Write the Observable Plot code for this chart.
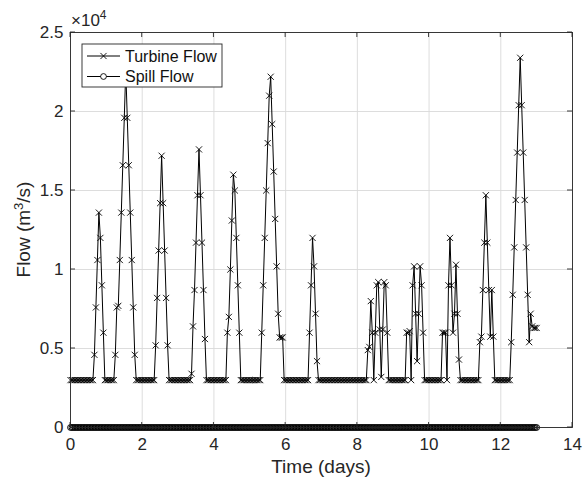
<!DOCTYPE html>
<html><head><meta charset="utf-8">
<script src="https://cdn.jsdelivr.net/npm/d3@7"></script>
<script src="https://cdn.jsdelivr.net/npm/@observablehq/plot@0.6"></script>
<style>body{margin:0;background:#fff} #chart{width:584px;height:483px}</style>
</head><body><div id="chart"></div>
<script>
// Hourly samples (hour index -> days = hour/24)
const turbineFlow = [
  3000,3000,3000,3000,3000,3000,3000,3000,3000,3000,3000,3000,3000,3000,3000,3000,4600,7600,10600,13600,12000,9000,6000,3000,
  3000,3000,3000,3000,3000,3000,4600,7600,7700,10600,13600,16600,19600,22600,19600,16600,13600,10600,7600,4600,3000,3000,3000,3000,
  3000,3000,3000,3000,3000,3000,3000,3000,3000,5200,8200,11200,14200,17200,14200,11200,8200,5200,3000,3000,3000,3000,3000,3000,
  3000,3000,3000,3000,3000,3000,3000,3000,3000,3400,6400,8700,11700,14700,17600,14700,11700,8700,5600,3000,3000,3000,3000,3000,
  3000,3000,3000,3000,3000,3000,3000,3000,3000,6000,7000,10000,13100,16000,15000,12000,9000,6000,3000,3000,3000,3000,3000,3000,
  3000,3000,3000,3000,3000,3000,3000,3000,6000,9000,12000,15000,18000,21000,22200,19200,16200,13200,10200,7200,5700,5700,5700,3000,
  3000,3000,3000,3000,3000,3000,3000,3000,3000,3000,3000,3000,3000,3000,3000,3000,6000,9000,12000,10200,7200,4200,3000,3000,
  3000,3000,3000,3000,3000,3000,3000,3000,3000,3000,3000,3000,3000,3000,3000,3000,3000,3000,3000,3000,3000,3000,3000,3000,
  3000,3000,3000,3000,3000,3000,3000,4900,5100,8000,6000,3000,6000,9000,9200,6200,3200,6200,9200,9000,6000,3000,3000,3000,
  3000,3000,3000,3000,3000,3000,3000,3000,3000,6000,6000,6100,3000,9000,10200,7200,4200,7200,10200,9000,6000,3000,3000,3000,
  3000,3000,3000,3000,3000,3000,3000,3000,3000,6000,6000,6000,3000,9000,12000,9000,6000,7200,10300,7200,4300,3000,3000,3000,
  3000,3000,3000,3000,3000,3000,3000,3000,3000,3000,5400,5750,8700,11700,14700,11700,8700,5750,8700,5750,3000,3000,3000,3000,
  3000,3000,3000,3000,3000,3000,3000,5400,8400,11400,14400,17400,20400,23400,20400,17400,14400,11400,8400,5400,7200,6400,6300,6300,
  6300
];
const spillFlow = [
  0,0,0,0,0,0,0,0,0,0,0,0,0,0,0,0,0,0,0,0,0,0,0,0,
  0,0,0,0,0,0,0,0,0,0,0,0,0,0,0,0,0,0,0,0,0,0,0,0,
  0,0,0,0,0,0,0,0,0,0,0,0,0,0,0,0,0,0,0,0,0,0,0,0,
  0,0,0,0,0,0,0,0,0,0,0,0,0,0,0,0,0,0,0,0,0,0,0,0,
  0,0,0,0,0,0,0,0,0,0,0,0,0,0,0,0,0,0,0,0,0,0,0,0,
  0,0,0,0,0,0,0,0,0,0,0,0,0,0,0,0,0,0,0,0,0,0,0,0,
  0,0,0,0,0,0,0,0,0,0,0,0,0,0,0,0,0,0,0,0,0,0,0,0,
  0,0,0,0,0,0,0,0,0,0,0,0,0,0,0,0,0,0,0,0,0,0,0,0,
  0,0,0,0,0,0,0,0,0,0,0,0,0,0,0,0,0,0,0,0,0,0,0,0,
  0,0,0,0,0,0,0,0,0,0,0,0,0,0,0,0,0,0,0,0,0,0,0,0,
  0,0,0,0,0,0,0,0,0,0,0,0,0,0,0,0,0,0,0,0,0,0,0,0,
  0,0,0,0,0,0,0,0,0,0,0,0,0,0,0,0,0,0,0,0,0,0,0,0,
  0,0,0,0,0,0,0,0,0,0,0,0,0,0,0,0,0,0,0,0,0,0,0,0,
  0
];
const hoursPerDay = 24;
const xTicks = [0, 2, 4, 6, 8, 10, 12, 14];
const yTicks = [0, 5000, 10000, 15000, 20000, 25000];
const yTickLabels = ["0", "0.5", "1", "1.5", "2", "2.5"];
const seriesNames = ["Turbine Flow", "Spill Flow"];

const data = turbineFlow.map((v, i) => ({t: i / hoursPerDay, turbine: v, spill: spillFlow[i]}));

const FONT = "'Liberation Sans', Arial, Helvetica, sans-serif";
const AX = "#262626";
const LC = "#000";
const R = 2.9;

const plot = Plot.plot({
  width: 584, height: 483,
  marginLeft: 70, marginRight: 12, marginTop: 32, marginBottom: 56,
  style: {fontFamily: FONT, fontSize: "17px", color: AX, background: "white", overflow: "visible"},
  x: {domain: [0, 14], label: null},
  y: {domain: [0, 25000], label: null},
  marks: [
    Plot.gridX(xTicks, {stroke: "#d9d9d9", strokeOpacity: 1, strokeWidth: 0.9}),
    Plot.gridY(yTicks, {stroke: "#d9d9d9", strokeOpacity: 1, strokeWidth: 0.9}),
    Plot.axisX(xTicks, {anchor: "bottom", tickSize: 0, tickPadding: 10, tickFormat: d => String(d), fontSize: 17, fill: AX}),
    Plot.axisY(yTicks, {anchor: "left", tickSize: 0, tickPadding: 7, tickFormat: d => yTickLabels[yTicks.indexOf(d)], fontSize: 17, fill: AX}),
    Plot.line(data, {x: "t", y: "turbine", stroke: LC, strokeWidth: 1}),
    Plot.dot(data, {x: "t", y: "turbine", symbol: "times", r: R, stroke: LC, strokeWidth: 0.9}),
    Plot.line(data, {x: "t", y: "spill", stroke: LC, strokeWidth: 1}),
    Plot.dot(data, {x: "t", y: "spill", symbol: "circle", r: R, stroke: LC, strokeWidth: 1, fill: "none"}),
    Plot.frame({stroke: AX, strokeWidth: 0.9})
  ]
});
document.getElementById("chart").appendChild(plot);

const svg = d3.select(plot);
const sx = plot.scale("x"), sy = plot.scale("y");
const [X0, X1] = sx.range, [Y0, Y1] = sy.range; // Y0 bottom, Y1 top
const tg = svg.append("g").attr("stroke", AX).attr("stroke-width", 0.9);
xTicks.forEach(v => {
  const p = sx.apply(v);
  tg.append("line").attr("x1", p).attr("x2", p).attr("y1", Y0).attr("y2", Y0 - 5);
  tg.append("line").attr("x1", p).attr("x2", p).attr("y1", Y1).attr("y2", Y1 + 5);
});
yTicks.forEach(v => {
  const p = sy.apply(v);
  tg.append("line").attr("y1", p).attr("y2", p).attr("x1", X0).attr("x2", X0 + 5);
  tg.append("line").attr("y1", p).attr("y2", p).attr("x1", X1).attr("x2", X1 - 5);
});

// exponent
const ex = svg.append("text").attr("x", X0 + 1).attr("y", Y1 - 6).attr("fill", AX)
  .attr("text-anchor", "start").attr("font-family", FONT).attr("font-size", 17);
ex.append("tspan").text("×10");
ex.append("tspan").attr("dy", -7).attr("font-size", 12).text("4");

// axis labels
svg.append("text").attr("x", (X0 + X1) / 2).attr("y", 473).attr("text-anchor", "middle")
  .attr("fill", AX).attr("font-family", FONT).attr("font-size", 19).text("Time (days)");
const yl = svg.append("text").attr("transform", `translate(30,${(Y0 + Y1) / 2}) rotate(-90)`)
  .attr("text-anchor", "middle").attr("fill", AX).attr("font-family", FONT).attr("font-size", 19);
yl.append("tspan").text("Flow (m");
yl.append("tspan").attr("dy", -7).attr("font-size", 13).text("3");
yl.append("tspan").attr("dy", 7).text("/s)");

// legend
const lg = svg.append("g").attr("transform", `translate(${X0 + 12},${Y1 + 12})`);
lg.append("rect").attr("width", 140).attr("height", 43).attr("fill", "white").attr("stroke", AX).attr("stroke-width", 0.9);
const sym = [d3.symbolTimes, d3.symbolCircle];
seriesNames.forEach((name, i) => {
  const cy = 12 + i * 20.5;
  lg.append("line").attr("x1", 5).attr("x2", 38).attr("y1", cy).attr("y2", cy).attr("stroke", LC).attr("stroke-width", 1);
  lg.append("path").attr("d", d3.symbol(sym[i], Math.PI * R * R)()).attr("transform", `translate(21.5,${cy})`)
    .attr("fill", i === 1 ? "white" : "none").attr("stroke", LC).attr("stroke-width", 0.9);
  lg.append("text").attr("x", 43).attr("y", cy + 5.6).attr("text-anchor", "start").attr("fill", "#111")
    .attr("font-family", FONT).attr("font-size", 16).text(name);
});
</script>
</body></html>
